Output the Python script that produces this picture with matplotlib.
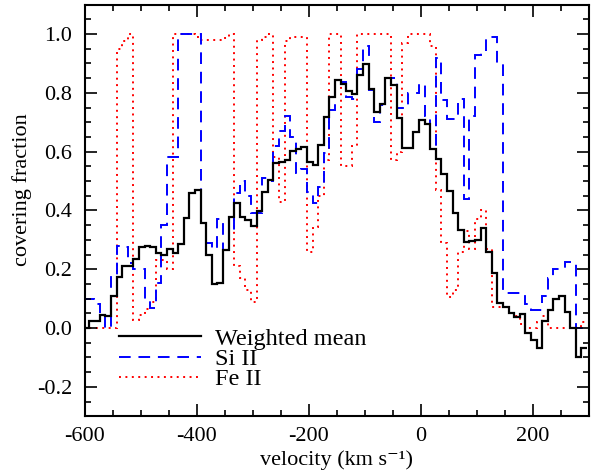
import numpy as np
import matplotlib
matplotlib.use('Agg')
import matplotlib.pyplot as plt
from matplotlib.ticker import MultipleLocator, FormatStrFormatter
from matplotlib.lines import Line2D

plt.rcParams['font.family'] = ['Liberation Serif', 'DejaVu Serif']
plt.rcParams['axes.unicode_minus'] = False

# bin centres (km/s), 10 km/s bins
velocity = np.arange(-598, 293, 10)

# weighted mean covering fraction
mean_cf = [0.0, 0.025, 0.025, 0.045, 0.042, 0.11, 0.175, 0.21, 0.21, 0.235,
           0.277, 0.279, 0.275, 0.254, 0.249, 0.27, 0.254, 0.286, 0.373, 0.458,
           0.469, 0.356, 0.249, 0.149, 0.153, 0.266, 0.376, 0.426, 0.379, 0.367,
           0.347, 0.399, 0.463, 0.505, 0.562, 0.565, 0.571, 0.601, 0.608, 0.616,
           0.563, 0.554, 0.621, 0.718, 0.785, 0.842, 0.831, 0.805, 0.797, 0.862,
           0.898, 0.814, 0.734, 0.763, 0.851, 0.825, 0.715, 0.612, 0.612, 0.667,
           0.706, 0.695, 0.610, 0.576, 0.523, 0.467, 0.392, 0.333, 0.294, 0.297,
           0.299, 0.339, 0.26, 0.186, 0.086, 0.07, 0.052, 0.039, 0.046, -0.016,
           -0.04, -0.067, 0.025, 0.061, 0.099, 0.11, 0.056, 0.0, -0.098, -0.067]

# Si II
si_cf = [0.10, 0.10, 0.08, 0.04, 0.0, 0.18, 0.28, 0.275, 0.22, 0.20,
         0.20, 0.10, 0.067, 0.152, 0.35, 0.58, 0.58, 1.0, 1.0, 1.0,
         1.0, 0.356, 0.29, 0.27, 0.37, 0.266, 0.322, 0.46, 0.50, 0.45,
         0.39, 0.39, 0.51, 0.50, 0.62, 0.67, 0.72, 0.65, 0.526, 0.54,
         0.463, 0.424, 0.48, 0.594, 0.74, 0.836, 0.836, 0.785, 0.78, 0.88,
         0.96, 0.81, 0.70, 0.76, 0.851, 0.851, 0.75, 0.75, 0.80, 0.80,
         0.83, 0.72, 0.61, 0.92, 0.775, 0.71, 0.71, 0.78, 0.44, 0.72,
         0.93, 0.94, 0.99, 0.99, 0.90, 0.12, 0.12, 0.12, 0.12, 0.08,
         0.06, 0.06, 0.11, 0.17, 0.20, 0.205, 0.225, 0.22, 0.0, 0.0]

# Fe II
fe_cf = [0.0, 0.0, 0.0, 0.0, 0.0, 0.0, 0.95, 0.975, 1.0, 0.028,
         0.045, 0.065, 0.09, 0.23, 0.23, 0.20, 1.0, 1.0, 1.0, 1.0,
         0.99, 0.98, 0.98, 0.98, 0.98, 0.985, 1.0, 0.21, 0.17, 0.13,
         0.09, 0.98, 0.99, 1.0, 0.58, 0.43, 0.975, 0.99, 0.99, 0.99,
         0.26, 0.345, 0.45, 0.57, 1.0, 1.0, 0.55, 0.55, 0.62, 1.0,
         1.0, 1.0, 1.0, 1.0, 1.0, 0.57, 0.60, 0.97, 1.0, 1.0,
         1.0, 1.0, 0.96, 0.47, 0.288, 0.107, 0.13, 0.26, 0.33, 0.27,
         0.37, 0.40, 0.27, 0.073, 0.073, 0.073, 0.05, 0.04, 0.015, 0.0,
         0.0, 0.02, 0.04, 0.0, 0.0, 0.0, 0.0, 0.0, 0.0, 0.02]

edges = np.append(velocity - 5, velocity[-1] + 5)

fig = plt.figure(figsize=(5.96, 4.76), dpi=100)
ax = fig.add_axes([0.1421, 0.1256, 0.8456, 0.8647])

ax.stairs(fe_cf, edges, baseline=None, color='#ff0000', lw=1.4,
          linestyle=(0, (1, 2.3)))
ax.stairs(si_cf, edges, baseline=None, color='#0000ff', lw=1.4,
          linestyle=(0, (6, 4)))
ax.stairs(mean_cf, edges, baseline=None, color='black', lw=1.6)

ax.set_xlim(-600, 300)
ax.set_ylim(-0.3, 1.1)
ax.xaxis.set_major_locator(MultipleLocator(200))
ax.xaxis.set_minor_locator(MultipleLocator(50))
ax.yaxis.set_major_locator(MultipleLocator(0.2))
ax.yaxis.set_minor_locator(MultipleLocator(0.05))
ax.yaxis.set_major_formatter(FormatStrFormatter('%.1f'))
ax.tick_params(which='both', direction='in', top=True, right=True, width=1.2)
ax.tick_params(which='major', length=8.5, labelsize=16)
ax.tick_params(axis='x', which='major', pad=8)
ax.tick_params(axis='y', which='major', pad=9)
ax.tick_params(which='minor', length=4.3)
for s in ax.spines.values():
    s.set_linewidth(1.5)

ax.set_xlabel('velocity (km s\u207b\u00b9)', fontsize=16)
ax.xaxis.set_label_coords(0.5, -0.083)
ax.set_ylabel('covering fraction', fontsize=16)
ax.yaxis.set_label_coords(-0.105, 0.55)

handles = [Line2D([], [], color='black', lw=1.6),
           Line2D([], [], color='#0000ff', lw=1.4, linestyle=(0, (6, 4))),
           Line2D([], [], color='#ff0000', lw=1.4, linestyle=(0, (1, 2.3)))]
ax.legend(handles, ['Weighted mean', 'Si II', 'Fe II'], loc='upper left',
          bbox_to_anchor=(0.068, 0.215), frameon=False, fontsize=17.5,
          handlelength=3.37, handletextpad=0.58, labelspacing=-0.07,
          borderpad=0, borderaxespad=0)

fig.savefig('out.png', dpi=100)
